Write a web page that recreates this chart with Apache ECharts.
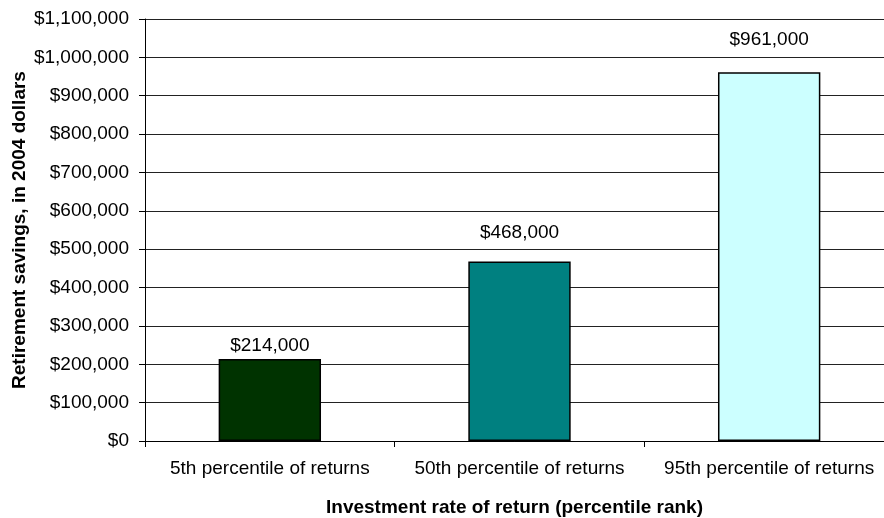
<!DOCTYPE html>
<html>
<head>
<meta charset="utf-8">
<script src="https://cdn.jsdelivr.net/npm/echarts@6/dist/echarts.min.js"></script>
<style>
  html, body { margin: 0; padding: 0; background: #fff; }
  #chart { width: 884px; height: 518px; }
</style>
</head>
<body>
<div id="chart"></div>
<script>
  const categories = ['5th percentile of returns', '50th percentile of returns', '95th percentile of returns'];
  const savings = [214000, 468000, 961000];

  // bar look, kept apart from the data
  const barColors = ['#003300', '#008080', '#CCFFFF'];
  const labelGaps = [4, 19, 23];   // labels sit a bit unevenly above the bars

  const money = v => '$' + Number(v).toLocaleString('en-US');
  const font = 'Liberation Sans, Arial, sans-serif';

  const chart = echarts.init(document.getElementById('chart'));
  chart.setOption({
    animation: false,
    // the plot runs past the right edge of the picture, as in the original
    grid: { left: 145, top: 19, width: 749, height: 422, outerBoundsMode: 'none' },
    xAxis: {
      type: 'category',
      data: categories,
      name: 'Investment rate of return (percentile rank)',
      nameLocation: 'middle',
      nameGap: 57,
      nameTextStyle: { fontFamily: font, fontSize: 19, fontWeight: 'bold', color: '#000', padding: [0, 10, 0, 0] },
      axisLine: { lineStyle: { color: '#000', width: 1 } },
      axisTick: { show: true, length: 6, lineStyle: { color: '#000' } },
      axisLabel: { fontFamily: font, fontSize: 19, color: '#000', margin: 18, interval: 0 }
    },
    yAxis: {
      type: 'value',
      min: 0,
      max: 1100000,
      interval: 100000,
      name: 'Retirement savings, in 2004 dollars',
      nameLocation: 'middle',
      nameGap: 116,
      nameMoveOverlap: false,
      nameRotate: 90,
      nameTextStyle: { fontFamily: font, fontSize: 19, fontWeight: 'bold', color: '#000' },
      axisLine: { show: true, lineStyle: { color: '#000', width: 1 } },
      axisTick: { show: true, length: 6, lineStyle: { color: '#000' } },
      axisLabel: { fontFamily: font, fontSize: 19, color: '#000', margin: 16, formatter: money },
      splitLine: { show: true, lineStyle: { color: '#222', width: 1 } }
    },
    series: [{
      type: 'bar',
      barWidth: '41%',
      data: savings.map((v, i) => ({
        value: v,
        itemStyle: { color: barColors[i] },
        label: { distance: labelGaps[i] }
      })),
      itemStyle: { borderColor: '#000', borderWidth: 1.5 },
      label: {
        show: true,
        position: 'top',
        fontFamily: font,
        fontSize: 19,
        color: '#000',
        formatter: p => money(p.value)
      }
    }]
  });
</script>
</body>
</html>
